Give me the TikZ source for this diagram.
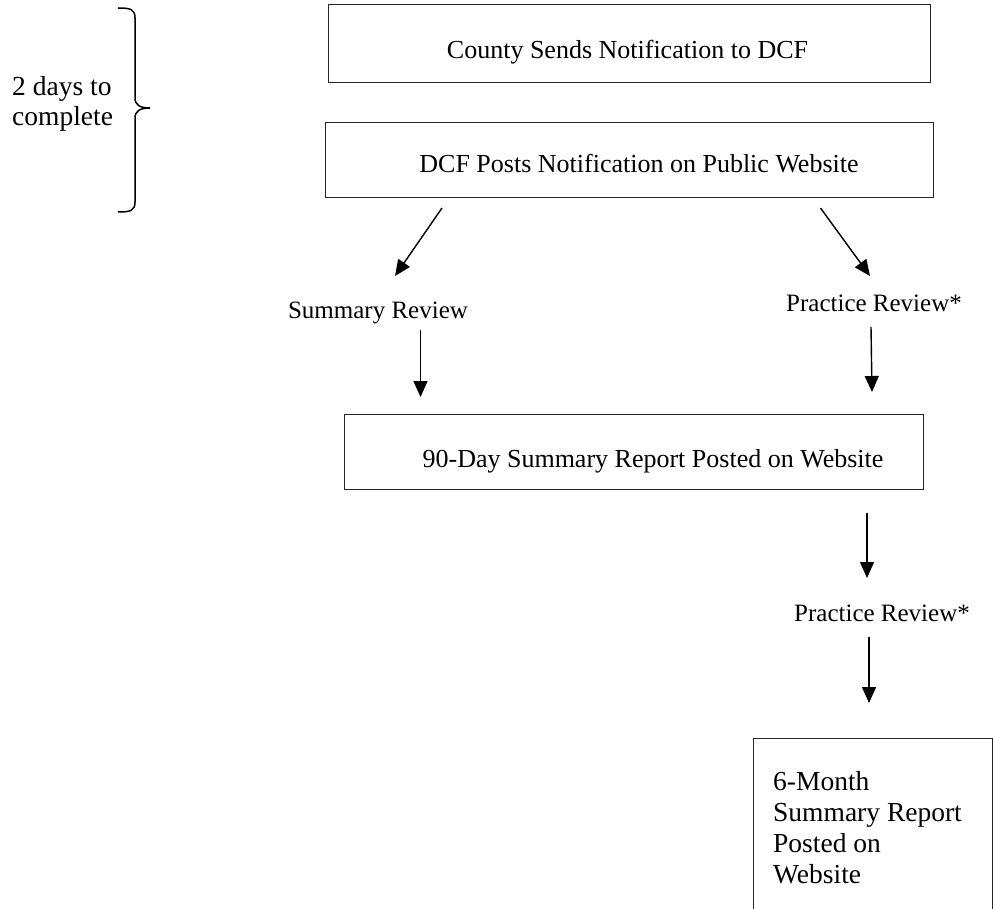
\documentclass[tikz,border=0pt]{standalone}
\usepackage{fontspec}
\setmainfont{Liberation Serif}
\usetikzlibrary{arrows.meta}
\begin{document}
\begin{tikzpicture}[x=1pt,y=-1pt,
  box/.style={draw=black!85, line width=1.3pt, inner sep=0pt},
  txt/.style={font=\fontsize{26}{31}\selectfont, inner sep=0pt, anchor=base},
  lbl/.style={font=\fontsize{25}{30}\selectfont, inner sep=0pt, anchor=base},
  arr/.style={line width=1.4pt, -{Triangle[length=16pt,width=14pt]}}]
\useasboundingbox (0,0) rectangle (993,909);
\clip (0,0) rectangle (993,909);

% brace and its text
\draw[line width=1.5pt] (118,8) .. controls (130,8) and (135,9) .. (135,18) -- (135,98)
  .. controls (135,105) and (140,108) .. (150,108)
  .. controls (140,108) and (135,111) .. (135,118) -- (135,202)
  .. controls (135,211) and (130,212) .. (118,212);
\node[font=\fontsize{27.5}{30}\selectfont, inner sep=0pt, anchor=north west, align=left] (days) at (12,76) {2 days to\\complete};

% boxes
\node[box, minimum width=602pt, minimum height=78pt, anchor=north west] (b1) at (328,4) {};
\node[txt] (t1) at (627.5,59) {County Sends Notification to DCF};

\node[box, minimum width=608pt, minimum height=75pt, anchor=north west] (b2) at (325,122) {};
\node[txt] (t2) at (639,173) {DCF Posts Notification on Public Website};

\node[box, minimum width=579pt, minimum height=75pt, anchor=north west] (b3) at (344,414) {};
\node[txt] (t3) at (653,467) {90-Day Summary Report Posted on Website};

\node[box, minimum width=239pt, minimum height=260pt, anchor=north west] (b4) at (753,738) {};
\node[font=\fontsize{27.5}{31}\selectfont, inner sep=0pt, anchor=north west, align=left] (t4) at (773,771) {6-Month\\Summary Report\\Posted on\\Website};

% labels
\node[lbl] (sr) at (378,318) {Summary Review};
\node[lbl] (pr1) at (874,312) {Practice Review*};
\node[lbl] (pr2) at (882,621) {Practice Review*};

% arrow end points
\coordinate (a1s) at (442,208); \coordinate (a1e) at (395,276);
\coordinate (a2s) at (820.5,208); \coordinate (a2e) at (870,276);
\coordinate (a3s) at (420.5,330); \coordinate (a3e) at (420.5,397);
\coordinate (a4s) at (871,327); \coordinate (a4e) at (872,392);
\coordinate (a5s) at (867,513); \coordinate (a5e) at (867,578);
\coordinate (a6s) at (869,637); \coordinate (a6e) at (869,703);

\draw[arr] (a1s) -- (a1e);
\draw[arr] (a2s) -- (a2e);
\draw[arr] (a3s) -- (a3e);
\draw[arr] (a4s) -- (a4e);
\draw[arr] (a5s) -- (a5e);
\draw[arr] (a6s) -- (a6e);
\end{tikzpicture}
\end{document}
